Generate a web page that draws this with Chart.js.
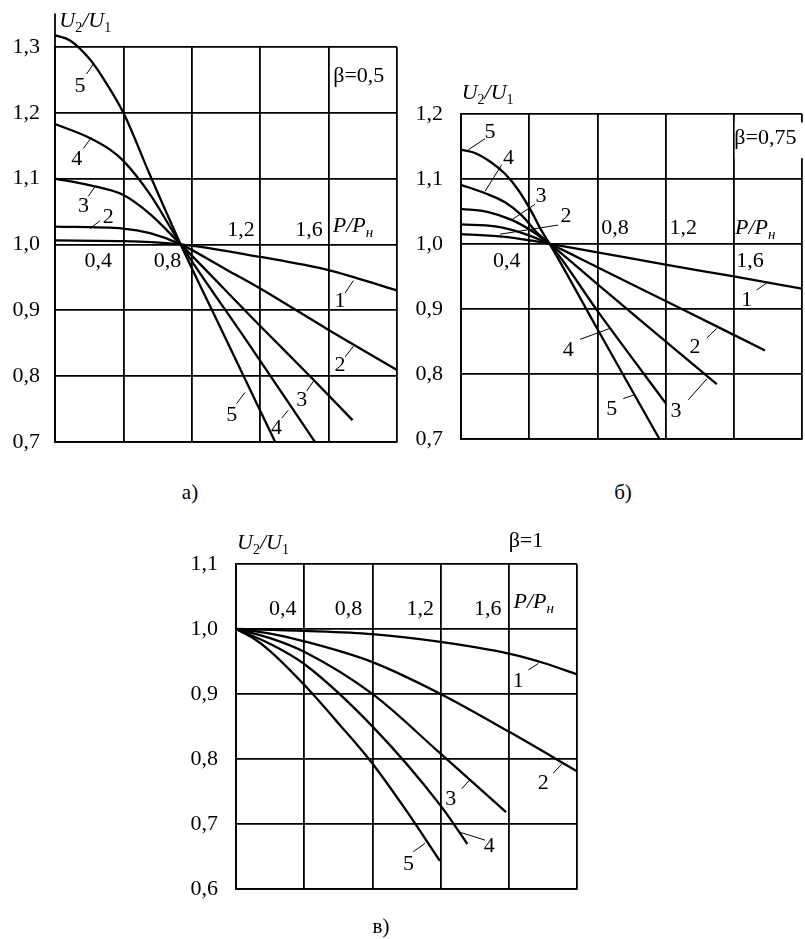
<!DOCTYPE html>
<html lang="ru">
<head>
<meta charset="utf-8">
<title>U2/U1 = f(P/Pн)</title>
<script src="https://cdn.jsdelivr.net/npm/chart.js@4.4.1/dist/chart.umd.min.js"></script>
<style>
  html, body { margin: 0; padding: 0; background: #fff; }
  body { width: 805px; height: 939px; position: relative; overflow: hidden;
         font-family: "Liberation Serif", "DejaVu Serif", serif; color: #000; }
  canvas { position: absolute; }
  .caption { position: absolute; font-size: 21px; transform: translate(-50%, -50%); }
</style>
</head>
<body>
<canvas id="chartA" width="410" height="470" style="left:0;top:0"></canvas>
<canvas id="chartB" width="405" height="410" style="left:400px;top:60px"></canvas>
<canvas id="chartC" width="420" height="400" style="left:180px;top:520px"></canvas>
<div class="caption" style="left:190px;top:492px">а)</div>
<div class="caption" style="left:623px;top:492px">б)</div>
<div class="caption" style="left:381px;top:926px">в)</div>

<script>
// Shared tick texts
const xTickText = ["0,4", "0,8", "1,2", "1,6"];
const curveNames = ["1", "2", "3", "4", "5"];

// а) β = 0,5  (P/Pн -> U2/U1)
const a1P = [0, 0.4, 0.735, 1.2, 1.6, 2.0];
const a1U = [1.006, 1.005, 1.0, 0.981, 0.961, 0.930];
const a2P = [0, 0.4, 0.556, 0.735, 1.0, 1.2, 1.6, 2.0];
const a2U = [1.027, 1.024, 1.017, 1.0, 0.962, 0.933, 0.870, 0.809];
const a3P = [0, 0.2, 0.4, 0.556, 0.735, 1.2, 1.49, 1.74];
const a3U = [1.1, 1.09, 1.075, 1.046, 1.0, 0.876, 0.8, 0.733];
const a4P = [0, 0.185, 0.322, 0.4, 0.556, 0.735, 1.13, 1.52];
const a4U = [1.183, 1.164, 1.144, 1.127, 1.076, 1.0, 0.85, 0.70];
const a5P = [0, 0.088, 0.205, 0.283, 0.4, 0.556, 0.735, 1.0, 1.287];
const a5U = [1.318, 1.31, 1.281, 1.252, 1.2, 1.105, 1.0, 0.856, 0.70];

// б) β = 0,75
const b1P = [0, 0.258, 0.415, 0.52, 0.8, 1.2, 1.6, 2.0];
const b1U = [1.015, 1.011, 1.005, 1.0, 0.987, 0.968, 0.950, 0.931];
const b2P = [0, 0.2, 0.356, 0.52, 0.8, 1.2, 1.6, 1.783];
const b2U = [1.030, 1.027, 1.017, 1.0, 0.964, 0.912, 0.860, 0.836];
const b3P = [0, 0.16, 0.297, 0.415, 0.52, 0.8, 1.2, 1.5];
const b3U = [1.054, 1.049, 1.037, 1.020, 1.0, 0.938, 0.850, 0.784];
const b4P = [0, 0.141, 0.258, 0.356, 0.454, 0.52, 0.8, 1.2];
const b4U = [1.091, 1.078, 1.064, 1.044, 1.015, 1.0, 0.897, 0.755];
const b5P = [0, 0.082, 0.18, 0.258, 0.336, 0.415, 0.473, 0.52, 0.8, 1.163];
const b5U = [1.145, 1.14, 1.125, 1.108, 1.083, 1.049, 1.02, 1.0, 0.869, 0.70];

// в) β = 1
const c1P = [0, 0.4, 0.8, 1.2, 1.6, 1.8, 2.0];
const c1U = [1.0, 0.997, 0.992, 0.980, 0.962, 0.948, 0.930];
const c2P = [0, 0.2, 0.4, 0.8, 1.2, 1.6, 2.0];
const c2U = [1.0, 0.993, 0.981, 0.949, 0.90, 0.842, 0.781];
const c3P = [0, 0.2, 0.4, 0.8, 1.2, 1.584];
const c3U = [1.0, 0.986, 0.965, 0.90, 0.808, 0.718];
const c4P = [0, 0.2, 0.4, 0.8, 1.2, 1.357];
const c4U = [1.0, 0.977, 0.946, 0.85, 0.728, 0.669];
const c5P = [0, 0.1, 0.2, 0.4, 0.6, 0.8, 1.0, 1.196];
const c5U = [1.0, 0.986, 0.966, 0.914, 0.855, 0.793, 0.72, 0.643];

const pts = (p, u) => p.map((x, i) => ({ x, y: u[i] }));

const SERIF = "'Liberation Serif', 'DejaVu Serif', serif";
const FS = 22;

// Layout of each panel: canvas padding, label anchors in data units
const panels = [
  {
    id: "chartA", yMin: 0.7, yMax: 1.3,
    padding: { left: 0, top: 47, right: 13, bottom: 14 }, yAxisWidth: 55, tickGap: 15,
    curves: [[a1P, a1U], [a2P, a2U], [a3P, a3U], [a4P, a4U], [a5P, a5U]],
    axisTop: 1.351,
    yTitle: [0.025, 1.331], xTitle: [1.624, 1.0194],
    beta: "β=0,5", betaAt: [1.627, 1.256],
    xLabels: [[0.253, 0.974], [0.658, 0.974], [1.088, 1.021], [1.485, 1.021]],
    // [curve index, text x, text y, leader x1, y1, x2, y2]
    marks: [
      [0, 1.667, 0.914, 1.696, 0.926, 1.745, 0.945],
      [1, 1.667, 0.816, 1.696, 0.829, 1.745, 0.845],
      [2, 1.443, 0.763, 1.472, 0.777, 1.511, 0.792],
      [3, 1.296, 0.721, 1.326, 0.736, 1.364, 0.748],
      [4, 1.033, 0.741, 1.062, 0.758, 1.111, 0.775],
      [4, 0.146, 1.241, 0.185, 1.259, 0.224, 1.274],
      [3, 0.127, 1.129, 0.166, 1.146, 0.214, 1.163],
      [2, 0.166, 1.058, 0.195, 1.073, 0.234, 1.088],
      [1, 0.312, 1.041, 0.263, 1.036, 0.205, 1.024],
    ],
  },
  {
    id: "chartB", yMin: 0.7, yMax: 1.2,
    padding: { left: 0, top: 54, right: 3, bottom: 16 }, yAxisWidth: 61, tickGap: 18,
    curves: [[b1P, b1U], [b2P, b2U], [b3P, b3U], [b4P, b4U], [b5P, b5U]],
    yTitle: [0.004, 1.2235], xTitle: [1.607, 1.0147],
    beta: "β=0,75", betaAt: [1.603, 1.162], betaBox: [1.187, 1.132],
    xLabels: [[0.268, 0.974], [0.903, 1.024], [1.304, 1.024], [1.695, 0.974]],
    marks: [
      [0, 1.676, 0.914, 1.734, 0.929, 1.793, 0.940],
      [1, 1.372, 0.841, 1.441, 0.855, 1.5, 0.870],
      [2, 1.261, 0.743, 1.333, 0.760, 1.441, 0.792],
      [3, 0.629, 0.836, 0.698, 0.853, 0.874, 0.870],
      [4, 0.884, 0.745, 0.952, 0.762, 1.01, 0.767],
      [4, 0.170, 1.172, 0.141, 1.162, 0.043, 1.145],
      [3, 0.278, 1.132, 0.239, 1.122, 0.141, 1.081],
      [2, 0.469, 1.074, 0.434, 1.061, 0.297, 1.037],
      [1, 0.616, 1.042, 0.569, 1.029, 0.229, 1.015],
    ],
  },
  {
    id: "chartC", yMin: 0.6, yMax: 1.1,
    padding: { left: 0, top: 44, right: 23, bottom: 16 }, yAxisWidth: 56, tickGap: 18,
    curves: [[c1P, c1U], [c2P, c2U], [c3P, c3U], [c4P, c4U], [c5P, c5U]],
    yTitle: [0.006, 1.1235], xTitle: [1.628, 1.0324],
    beta: "β=1", betaAt: [1.599, 1.135],
    xLabels: [[0.274, 1.031], [0.66, 1.031], [1.081, 1.031], [1.477, 1.031]],
    marks: [
      [0, 1.656, 0.92, 1.715, 0.937, 1.774, 0.947],
      [1, 1.802, 0.763, 1.861, 0.778, 1.91, 0.792],
      [2, 1.259, 0.738, 1.324, 0.754, 1.372, 0.768],
      [3, 1.486, 0.665, 1.46, 0.675, 1.314, 0.687],
      [4, 1.011, 0.638, 1.04, 0.657, 1.108, 0.670],
    ],
  },
];

// Draw a run of text pieces: [text, font, baseline shift]
function drawRich(ctx, x, y, parts) {
  ctx.textAlign = "left";
  ctx.textBaseline = "alphabetic";
  parts.forEach(([t, font, dy]) => {
    ctx.font = font;
    ctx.fillText(t, x, y + dy);
    x += ctx.measureText(t).width;
  });
}

const panelText = {
  id: "panelText",
  afterDraw(chart, args, opts) {
    const p = opts.panel;
    const { ctx, chartArea } = chart;
    const px = (v) => chart.scales.x.getPixelForValue(v);
    const py = (v) => chart.scales.y.getPixelForValue(v);
    ctx.save();
    ctx.fillStyle = "#000";
    ctx.strokeStyle = "#000";

    // y axis running above the grid
    if (p.axisTop) {
      ctx.lineWidth = 1.8;
      ctx.beginPath();
      ctx.moveTo(chartArea.left, chartArea.top);
      ctx.lineTo(chartArea.left, py(p.axisTop));
      ctx.stroke();
    }

    // white patch behind β label
    if (p.betaBox) {
      ctx.fillStyle = "#fff";
      ctx.fillRect(px(1.6) + 1, py(p.betaBox[0]), chartArea.right - px(1.6) + 3, py(p.betaBox[1]) - py(p.betaBox[0]));
      ctx.fillStyle = "#000";
    }

    // x tick values inside the grid
    ctx.font = `${FS}px ${SERIF}`;
    ctx.textAlign = "center";
    ctx.textBaseline = "middle";
    p.xLabels.forEach(([vx, vy], i) => ctx.fillText(xTickText[i], px(vx), py(vy)));

    // β
    ctx.textAlign = "left";
    ctx.fillText(p.beta, px(p.betaAt[0]), py(p.betaAt[1]));

    // curve numbers with leaders
    ctx.lineWidth = 1;
    p.marks.forEach(([ci, tx, ty, x1, y1, x2, y2]) => {
      ctx.textAlign = "center";
      ctx.textBaseline = "middle";
      ctx.font = `${FS}px ${SERIF}`;
      ctx.fillText(curveNames[ci], px(tx), py(ty));
      ctx.beginPath();
      ctx.moveTo(px(x1), py(y1));
      ctx.lineTo(px(x2), py(y2));
      ctx.stroke();
    });

    // axis titles
    const it = `italic ${FS}px ${SERIF}`;
    const sub = `14px ${SERIF}`;
    drawRich(ctx, px(p.yTitle[0]), py(p.yTitle[1]), [
      ["U", it, 0], ["2", sub, 5], ["/", it, 0], ["U", it, 0], ["1", sub, 5],
    ]);
    drawRich(ctx, px(p.xTitle[0]), py(p.xTitle[1]), [
      ["P/P", it, 0], ["н", `italic 15px ${SERIF}`, 5],
    ]);
    ctx.restore();
  },
};

panels.forEach((p) => {
  const ctx = document.getElementById(p.id).getContext("2d");
  new Chart(ctx, {
    type: "line",
    data: {
      datasets: p.curves.map(([P, U], i) => ({
        label: curveNames[i],
        data: pts(P, U),
        borderColor: "#000",
        borderWidth: 2.3,
        pointRadius: 0,
        fill: false,
        cubicInterpolationMode: "monotone",
        clip: false,
      })),
    },
    options: {
      responsive: false,
      animation: false,
      events: [],
      layout: { padding: p.padding },
      plugins: {
        legend: { display: false },
        tooltip: { enabled: false },
        panelText: { panel: p },
      },
      scales: {
        x: {
          type: "linear",
          min: 0, max: 2,
          ticks: { display: false, stepSize: 0.4 },
          grid: { color: "#000", lineWidth: 1.8, drawTicks: false },
          border: { color: "#000", width: 1.8 },
          afterFit: (s) => { s.height = 0; },
        },
        y: {
          type: "linear",
          min: p.yMin, max: p.yMax,
          ticks: {
            stepSize: 0.1,
            color: "#000",
            padding: p.tickGap,
            font: { family: SERIF, size: FS },
            callback: (v) => v.toFixed(1).replace(".", ","),
          },
          grid: { color: "#000", lineWidth: 1.8, drawTicks: false },
          border: { color: "#000", width: 1.8 },
          afterFit: (s) => { s.width = p.yAxisWidth; },
        },
      },
    },
    plugins: [panelText],
  });
});
</script>
</body>
</html>
